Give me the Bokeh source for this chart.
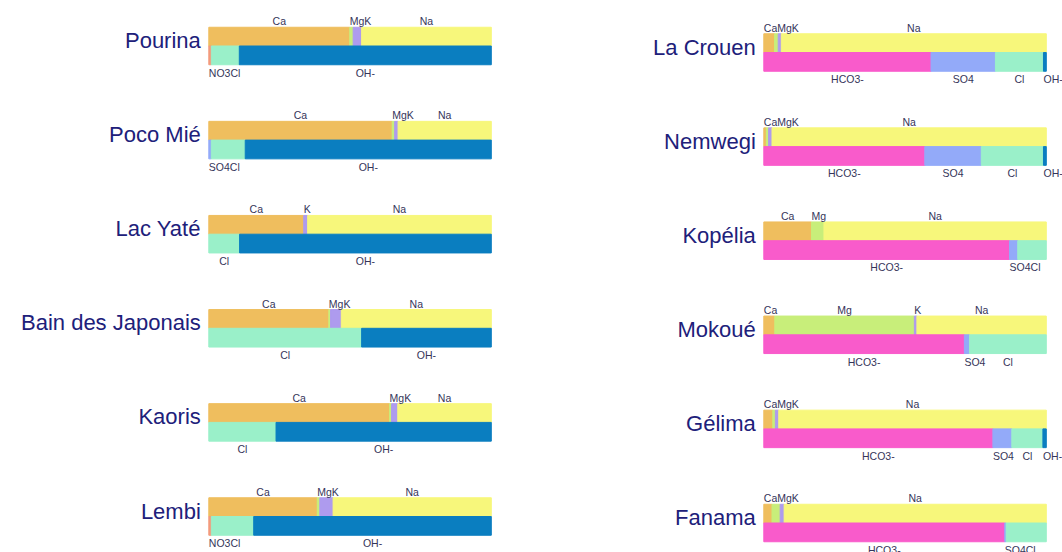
from bokeh.plotting import figure
from bokeh.models import ColumnDataSource, Range1d
from bokeh.layouts import row
from bokeh.embed import file_html
from bokeh.resources import INLINE
from bokeh.core.properties import value

# ---------------- data (percent of meq) ----------------
sites_left = ["Pourina", "Poco Mié", "Lac Yaté", "Bain des Japonais", "Kaoris", "Lembi"]
sites_right = ["La Crouen", "Nemwegi", "Kopélia", "Mokoué", "Gélima", "Fanama"]

cation_names = ["Ca", "Mg", "K", "Na"]
anion_names = ["HCO3-", "NO3", "SO4", "Cl", "OH-"]

# cations, left column
ca_left = [49.9, 64.9, 33.6, 42.5, 64.0, 38.4]
mg_left = [1.2, 0.9, 0.0, 0.6, 0.7, 0.9]
k_left = [3.0, 1.2, 1.4, 3.8, 2.2, 4.7]
na_left = [45.9, 33.0, 65.0, 53.1, 33.1, 56.0]
# anions, left column
hco3_left = [0.0, 0.0, 0.0, 0.0, 0.0, 0.0]
no3_left = [0.9, 0.0, 0.0, 0.0, 0.0, 0.9]
so4_left = [0.0, 0.9, 0.0, 0.0, 0.0, 0.0]
cl_left = [9.9, 12.0, 10.9, 54.1, 23.8, 15.0]
oh_left = [89.2, 87.1, 89.1, 45.9, 76.2, 84.1]

# cations, right column
ca_right = [3.8, 0.9, 16.9, 3.9, 3.2, 2.9]
mg_right = [1.3, 0.8, 4.4, 49.4, 0.9, 2.9]
k_right = [1.1, 1.2, 0.0, 0.9, 1.2, 1.4]
na_right = [93.8, 97.1, 78.7, 45.8, 94.7, 92.8]
# anions, right column
hco3_right = [59.2, 57.0, 87.0, 71.0, 81.1, 85.3]
no3_right = [0.0, 0.0, 0.0, 0.0, 0.0, 0.0]
so4_right = [22.8, 20.0, 2.9, 1.8, 6.7, 0.5]
cl_right = [17.0, 22.0, 10.1, 27.2, 11.0, 14.2]
oh_right = [1.0, 1.0, 0.0, 0.0, 1.2, 0.0]

ion_colors = {
    "Ca": "#EFBE5E", "Mg": "#C8EE7A", "K": "#AE9BEE", "Na": "#F7F77B",
    "HCO3-": "#F95BCB", "NO3": "#F39A7C", "SO4": "#93AAF9", "Cl": "#9AF0C9", "OH-": "#0A7EC0",
}

# ---------------- layout constants ----------------
FIG_H = 552
PX_X = 282.5     # px per unit (full bar)
PX_Y = 94.1      # px per site row
BAR_PX = 18.75   # px height of each bar
LABEL_PX = 10.5
NAME_PX = 22
FONT = "Liberation Sans"
LABEL_COLOR = "#35355a"
NAME_COLOR = "#20207a"

# Arial / Liberation Sans advance widths (per 1000 em)
CHAR_W = {"C": 722, "a": 556, "M": 833, "g": 556, "K": 667, "N": 722, "O": 778,
          "3": 556, "l": 222, "H": 722, "-": 333, "S": 667, "4": 556}


def text_width(s):
    return sum(CHAR_W.get(c, 556) for c in s) * LABEL_PX / 1000.0


def make_panel(sites, cations, anions, fig_w, bar_x0_px, mid0_px):
    p = figure(width=fig_w, height=FIG_H, output_backend="svg", toolbar_location=None,
               x_axis_type=None, y_axis_type=None, min_border=0,
               min_border_left=0, min_border_right=0, min_border_top=0, min_border_bottom=0,
               x_range=Range1d(-bar_x0_px / PX_X, (fig_w - bar_x0_px) / PX_X),
               y_range=Range1d((FIG_H - mid0_px) / PX_Y, -mid0_px / PX_Y))
    p.outline_line_color = None
    p.grid.visible = False
    p.background_fill_color = "white"
    p.border_fill_color = "white"

    bh = BAR_PX / PX_Y
    bars = dict(y=[], left=[], right=[], color=[])
    labels = dict(x=[], y=[], text=[])

    for i in range(len(sites)):
        for names, series, yc, ylab in (
            (cation_names, cations, i - bh / 2, i - (BAR_PX + 6.0) / PX_Y),
            (anion_names, anions, i + bh / 2, i + (BAR_PX + 8.0) / PX_Y),
        ):
            cum = 0.0
            prev_right = -1e9
            for name, arr in zip(names, series):
                v = arr[i]
                if v <= 0:
                    continue
                l, r = cum / 100.0, (cum + v) / 100.0
                cum += v
                bars["y"].append(yc)
                bars["left"].append(l)
                bars["right"].append(r)
                bars["color"].append(ion_colors[name])
                w = text_width(name)
                cpx = (l + r) / 2 * PX_X
                xl = max(cpx - w / 2, l * PX_X, prev_right)
                prev_right = xl + w
                labels["x"].append(xl / PX_X)
                labels["y"].append(ylab)
                labels["text"].append(name)

    p.hbar(y="y", left="left", right="right", height=bh, color="color",
           source=ColumnDataSource(bars))
    p.text(x="x", y="y", text="text", source=ColumnDataSource(labels),
           text_font=value(FONT), text_font_size=f"{LABEL_PX}px", text_color=LABEL_COLOR,
           text_align="left", text_baseline="alphabetic")

    names_src = ColumnDataSource(dict(
        x=[-8.0 / PX_X] * len(sites),
        y=[i - 5.5 / PX_Y for i in range(len(sites))],
        text=sites))
    p.text(x="x", y="y", text="text", source=names_src,
           text_font=value(FONT), text_font_size=f"{NAME_PX}px", text_color=NAME_COLOR,
           text_align="right", text_baseline="alphabetic")
    return p


left = make_panel(sites_left,
                  [ca_left, mg_left, k_left, na_left],
                  [hco3_left, no3_left, so4_left, cl_left, oh_left],
                  fig_w=520, bar_x0_px=208.3, mid0_px=45.5)
right = make_panel(sites_right,
                   [ca_right, mg_right, k_right, na_right],
                   [hco3_right, no3_right, so4_right, cl_right, oh_right],
                   fig_w=542, bar_x0_px=243.3, mid0_px=52.0)

layout = row(left, right, spacing=0)
open("out.html", "w").write(file_html(layout, INLINE))
